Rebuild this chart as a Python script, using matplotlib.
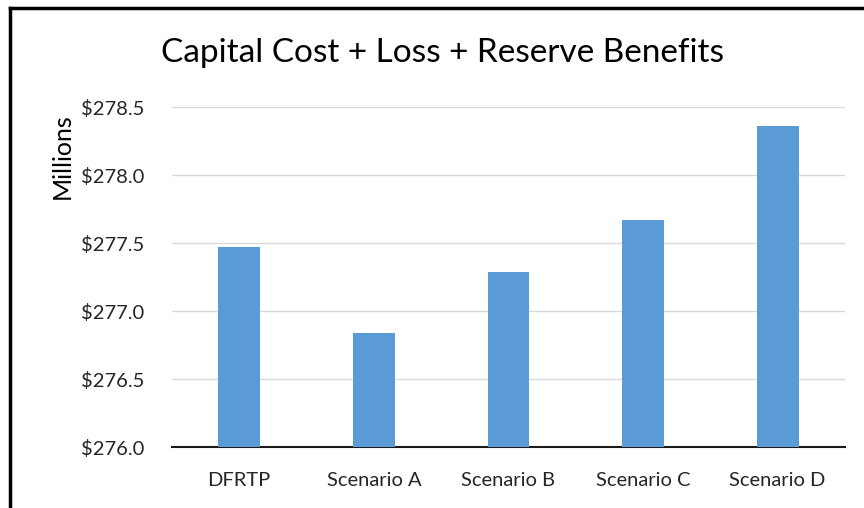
import numpy as np
import matplotlib
matplotlib.use("Agg")
import matplotlib.pyplot as plt
from matplotlib.lines import Line2D

categories = ["DFRTP", "Scenario A", "Scenario B", "Scenario C", "Scenario D"]
values = [277.47, 276.84, 277.29, 277.67, 278.36]
yticks = [276.0, 276.5, 277.0, 277.5, 278.0, 278.5]

plt.rcParams["font.family"] = ["Lato", "DejaVu Sans"]

fig = plt.figure(figsize=(8.64, 5.08), dpi=100)
ax = fig.add_axes([0.199, 0.12, 0.779, 0.669])

x = np.arange(len(categories))
ax.bar(x, values, 0.31, color="#5B9BD5", zorder=3)
ax.set_xlim(-0.5, len(categories) - 0.5)
ax.set_ylim(yticks[0], yticks[-1])
ax.set_yticks(yticks)
ax.set_yticklabels(["$%.1f" % v for v in yticks])
ax.set_xticks(x)
ax.set_xticklabels(categories)
ax.tick_params(axis="both", length=0, labelsize=14.5, colors="#262626")
ax.tick_params(axis="y", pad=20)
ax.tick_params(axis="x", pad=18)
ax.grid(axis="y", color="#d9d9d9", lw=1, zorder=0)
for s in ("top", "right", "left"):
    ax.spines[s].set_visible(False)
ax.spines["bottom"].set_color("#1a1a1a")
ax.spines["bottom"].set_linewidth(1.5)

# Excel-style display-units label sits near the top of the value axis
fig.text(0.072, 0.693, "Millions", rotation=90, ha="center", va="center", fontsize=18)

fig.text(0.512, 0.895, "Capital Cost + Loss + Reserve Benefits", ha="center", va="center", fontsize=24)

# frame of the screenshot (left and top edges)
fig.add_artist(Line2D([0.0115, 0.0115], [0.0, 0.984], transform=fig.transFigure, color="black", lw=2.5))
fig.add_artist(Line2D([0.0115, 1.0], [0.984, 0.984], transform=fig.transFigure, color="black", lw=2.5))

fig.savefig("out.png", dpi=100)
